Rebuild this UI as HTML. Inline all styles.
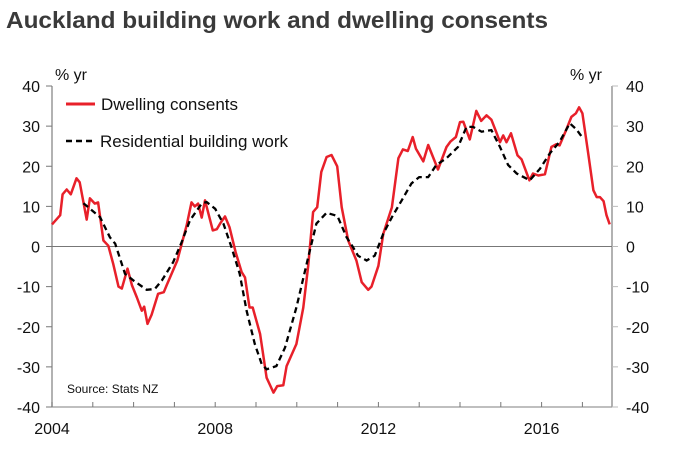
<!DOCTYPE html>
<html><head><meta charset="utf-8"><style>
body{margin:0;background:#fff;width:676px;height:453px;overflow:hidden}
svg text{font-family:"Liberation Sans",Arial,sans-serif}
</style></head><body>
<svg id="c" width="676" height="453">
<text x="6" y="28" font-size="23" font-weight="bold" fill="#3a3a3a" textLength="542" lengthAdjust="spacingAndGlyphs">Auckland building work and dwelling consents</text>
</svg>
<script>
const yTicks=[40,30,20,10,0,-10,-20,-30,-40];
const xTickYears=[2004,2005,2006,2007,2008,2009,2010,2011,2012,2013,2014,2015,2016,2017];
const xLabels=[2004,2008,2012,2016];
const dcYears=[2004.0,2004.2,2004.26,2004.36,2004.46,2004.6,2004.68,2004.85,2004.93,2005.05,2005.13,2005.26,2005.38,2005.5,2005.63,2005.71,2005.85,2005.96,2006.08,2006.2,2006.26,2006.34,2006.44,2006.6,2006.74,2006.81,2007.07,2007.2,2007.3,2007.42,2007.5,2007.58,2007.67,2007.75,2007.94,2008.04,2008.12,2008.24,2008.35,2008.5,2008.65,2008.73,2008.84,2008.92,2009.1,2009.26,2009.43,2009.52,2009.67,2009.67,2009.75,2009.99,2010.16,2010.28,2010.4,2010.5,2010.6,2010.73,2010.85,2010.99,2011.1,2011.26,2011.46,2011.59,2011.75,2011.83,2012.0,2012.12,2012.33,2012.49,2012.6,2012.72,2012.84,2012.92,2013.1,2013.22,2013.46,2013.67,2013.77,2013.9,2014.0,2014.08,2014.24,2014.4,2014.52,2014.65,2014.77,2014.9,2014.98,2015.06,2015.14,2015.25,2015.41,2015.51,2015.7,2015.79,2015.92,2016.08,2016.24,2016.36,2016.44,2016.6,2016.73,2016.84,2016.92,2017.0,2017.15,2017.27,2017.35,2017.43,2017.52,2017.59,2017.67];
const dcValues=[5.5,7.8,13,14.2,13,17,16,6.7,12,10.7,11,1.5,0.2,-4.3,-10,-10.5,-5.5,-9.7,-12.7,-16,-15,-19.3,-17,-11.8,-11.4,-9.7,-3.5,1.5,5.2,11,10,10.7,7.2,11.5,4,4.3,5.7,7.5,4.8,-1.4,-6.4,-7.7,-15.2,-15.2,-21.8,-32.7,-36.4,-34.8,-34.6,-34.6,-29.8,-24.3,-15.2,-4.8,8.6,9.8,18.6,22.3,22.8,20,9.8,1.5,-3.5,-8.9,-10.8,-10,-4.8,3.2,9.8,22,24.2,23.8,27.3,24.4,21.2,25.3,19.2,24.8,26.2,27.3,31,31.1,26.7,33.8,31.3,32.7,31.6,28.2,26,27.7,26,28.2,22.7,21.7,16.5,18.2,17.7,18,24.8,25.5,25.2,29,32.3,33.2,34.7,33.2,22.7,14,12.3,12.3,11.3,7.8,5.5];
const rbYears=[2004.77,2005.18,2005.42,2005.55,2005.79,2006.0,2006.32,2006.52,2006.69,2006.97,2007.18,2007.38,2007.67,2007.79,2008.0,2008.2,2008.4,2008.6,2008.77,2008.97,2009.14,2009.26,2009.5,2009.71,2009.99,2010.28,2010.48,2010.73,2010.93,2011.0,2011.22,2011.38,2011.5,2011.71,2011.91,2012.12,2012.33,2012.57,2012.81,2013.0,2013.22,2013.42,2013.67,2013.95,2014.16,2014.32,2014.53,2014.77,2014.98,2015.18,2015.39,2015.71,2015.96,2016.2,2016.44,2016.69,2016.85,2017.02];
const rbValues=[10.8,7.3,2.3,0.7,-6.8,-8.5,-10.8,-10.6,-8.5,-3.9,1.1,6.5,10.7,11.1,9.4,5.7,-0.2,-6.8,-16,-24.3,-29.3,-30.6,-29.8,-25.2,-15.2,-2.7,5.7,8.4,7.8,7.5,2.3,-0.2,-2.3,-3.5,-2.3,3.2,7.3,11.5,15.7,17.3,17.3,20.3,22,24.8,29.8,29.8,28.6,29,24.8,20.3,18.2,16.5,19.4,23.2,26.1,30.7,29.2,26.9];

const X0=52,X1=612,YT=86,YB=407;
const xs=y=>X0+(y-2004)*40.8;
const ys=v=>YT+(40-v)*(YB-YT)/80;
const svg=document.getElementById('c');
const NS='http://www.w3.org/2000/svg';
function mk(t,a){const e=document.createElementNS(NS,t);for(const k in a)e.setAttribute(k,a[k]);svg.appendChild(e);return e;}
let e;
e=mk('line',{x1:X0,y1:YT,x2:X0,y2:YB,stroke:'#999','stroke-width':1.5});


e=mk('line',{x1:X1,y1:YT,x2:X1,y2:YB,stroke:'#999','stroke-width':1.5});


e=mk('line',{x1:X0,y1:YB,x2:X1,y2:YB,stroke:'#999','stroke-width':1.2});


e=mk('line',{x1:X0,y1:ys(0),x2:X1,y2:ys(0),stroke:'#777','stroke-width':1});


yTicks.forEach(v=>{
  const y=ys(v);
  e=mk('line',{x1:X0-6,y1:y,x2:X0,y2:y,stroke:'#777'});
  
  
  e=mk('line',{x1:X1,y1:y,x2:X1+6,y2:y,stroke:'#bbb'});
  
  
  e=mk('text',{x:X0-12,y:y+6,'text-anchor':'end','font-size':16,fill:'#111'});e.textContent=v;
  
  
  e=mk('text',{x:X1+14,y:y+6,'font-size':16,fill:'#111'});e.textContent=v;
  
  
});
xTickYears.forEach(yr=>{
  e=mk('line',{x1:xs(yr),y1:YB-5,x2:xs(yr),y2:YB,stroke:'#777'});
  
  
});
xLabels.forEach(yr=>{
  e=mk('text',{x:xs(yr),y:YB+27,'text-anchor':'middle','font-size':16,fill:'#111'});e.textContent=yr;
  
  
});
e=mk('text',{x:55,y:80,'font-size':16,fill:'#111'});e.textContent='% yr';


e=mk('text',{x:570,y:80,'font-size':16,fill:'#111'});e.textContent='% yr';


const pts=(xa,va)=>xa.map((x,i)=>xs(x).toFixed(1)+','+ys(va[i]).toFixed(1)).join(' ');
e=mk('polyline',{points:pts(dcYears,dcValues),fill:'none',stroke:'#e8202a','stroke-width':2.5,'stroke-linejoin':'round'});


e=mk('polyline',{points:pts(rbYears,rbValues),fill:'none',stroke:'#000','stroke-width':2.3,'stroke-dasharray':'6,4'});


e=mk('line',{x1:66,y1:104,x2:95,y2:104,stroke:'#e8202a','stroke-width':3});


e=mk('text',{x:101,y:110,'font-size':17,fill:'#111'});e.textContent='Dwelling consents';


e=mk('line',{x1:66,y1:141,x2:94,y2:141,stroke:'#000','stroke-width':2.5,'stroke-dasharray':'6,4'});


e=mk('text',{x:100,y:147,'font-size':17,fill:'#111'});e.textContent='Residential building work';


e=mk('text',{x:67,y:393,'font-size':12,fill:'#111'});e.textContent='Source: Stats NZ';


</script>
</body></html>
